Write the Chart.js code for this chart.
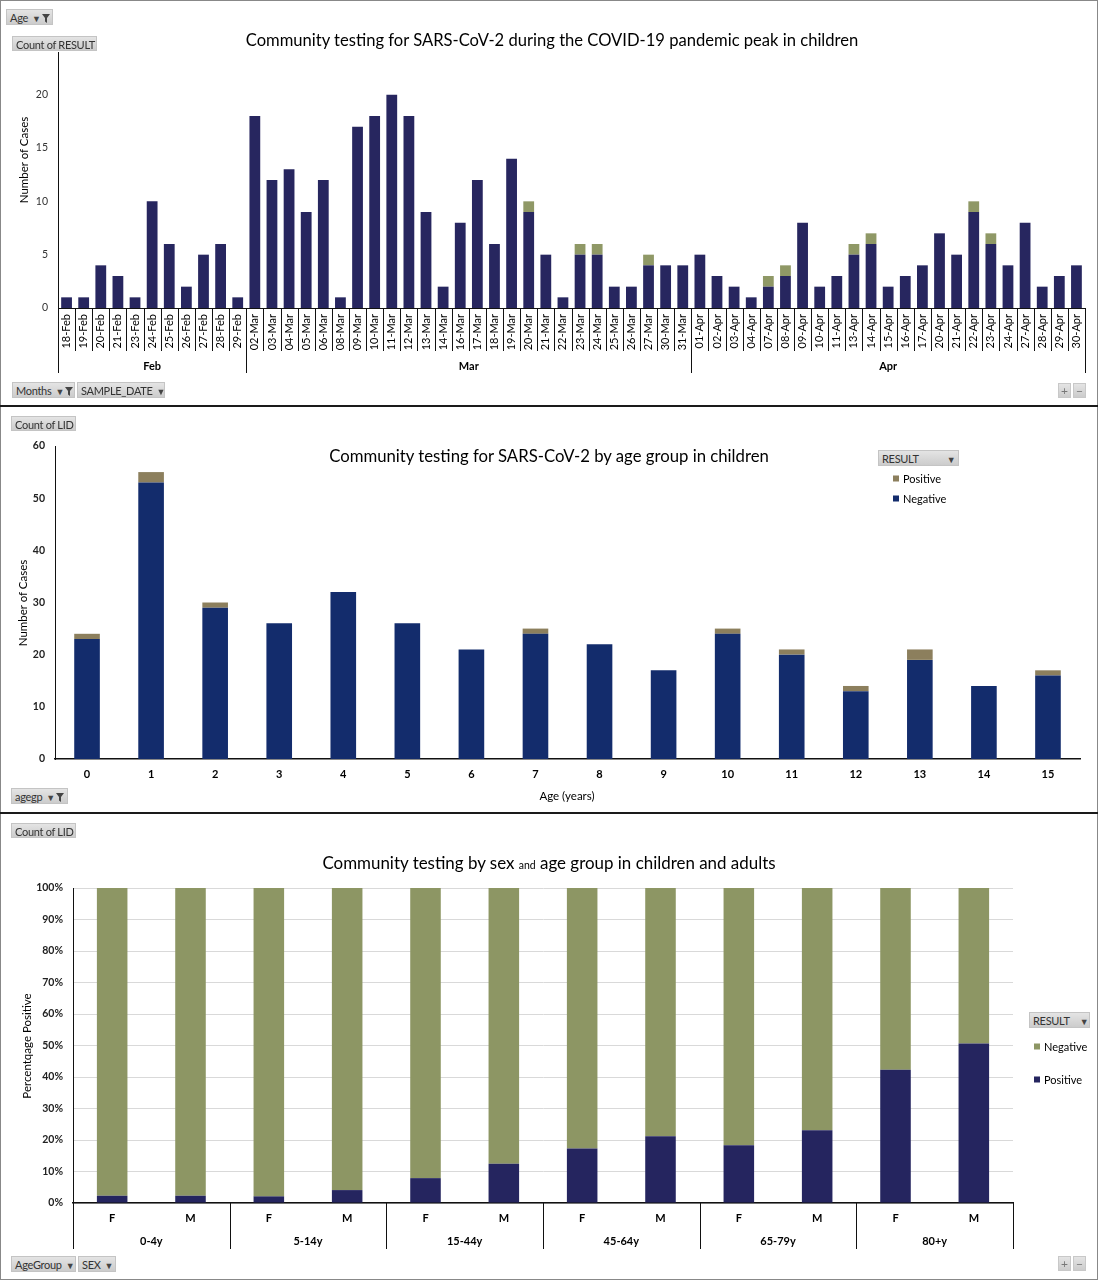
<!DOCTYPE html>
<html><head><meta charset="utf-8">
<script src="https://cdn.jsdelivr.net/npm/chart.js@4.4.1/dist/chart.umd.min.js"></script>
<style>
html,body{margin:0;padding:0;background:#fff;}
#page{position:relative;width:1098px;height:1280px;overflow:hidden;font-family:Lato,'Noto Sans',sans-serif;color:#000;background:#fff;}
canvas{position:absolute;left:0;}
.btn{position:absolute;height:16px;line-height:15px;background:linear-gradient(#e4e4e4,#cccccc);border:1px solid #c4c4c4;font-size:11px;color:#333;padding:0 3px;box-sizing:border-box;white-space:nowrap;letter-spacing:-0.3px;}
.btn .dd{font-size:9px;margin-left:4px;color:#444;}
.btn svg{vertical-align:-1px;margin-left:1px;}
.title{position:absolute;white-space:nowrap;font-size:17px;color:#000;transform:translate(-50%,-50%);}
.title small{font-size:10.5px;}
.ytitle{position:absolute;white-space:nowrap;font-size:11.5px;color:#000;transform:translate(-50%,-50%) rotate(-90deg);}
.xtitle{position:absolute;white-space:nowrap;font-size:11.5px;color:#000;transform:translate(-50%,-50%);}
.hl{position:absolute;background:#1a1a1a;}
.leg{position:absolute;font-size:11px;white-space:nowrap;color:#000;transform:translateY(-50%);}
.leg i{display:inline-block;width:6px;height:6px;margin-right:4px;vertical-align:1px;}
.pm{position:absolute;width:13px;height:15px;background:linear-gradient(#e4e4e4,#cccccc);border:1px solid #c8c8c8;box-sizing:border-box;font-size:12px;line-height:13px;text-align:center;color:#777;}
</style></head>
<body>
<div id="page">
  <!-- borders -->
  <div class="hl" style="left:0;top:0;width:1098px;height:1px;background:#888"></div>
  <div class="hl" style="left:0;top:0;width:1px;height:1280px;background:#888"></div>
  <div class="hl" style="left:1097px;top:0;width:1px;height:1280px;background:#888"></div>
  <div class="hl" style="left:0;top:1279px;width:1098px;height:1px;background:#888"></div>
  <div class="hl" style="left:0;top:405px;width:1098px;height:2px;"></div>
  <div class="hl" style="left:0;top:812px;width:1098px;height:2px;"></div>

  <canvas id="c1" width="1098" height="405" style="top:0;width:1098px;height:405px"></canvas>
  <canvas id="c2" width="1098" height="405" style="top:407px;width:1098px;height:405px"></canvas>
  <canvas id="c3" width="1098" height="466" style="top:814px;width:1098px;height:466px"></canvas>

  <!-- panel 1 -->
  <div class="title" data-w="613" style="left:552px;top:40px">Community testing for SARS-CoV-2 during the COVID-19 pandemic peak in children</div>
  <div class="ytitle" style="left:23px;top:160px">Number of Cases</div>
  <div class="btn" style="left:6px;top:9px;width:47px">Age<span class="dd">▼</span><svg width="8" height="9" viewBox="0 0 8 9"><path d="M0 0H8L5 4V9L3 7.5V4Z" fill="#444"/></svg></div>
  <div class="btn" style="left:12px;top:36px;width:85px;height:15px">Count of RESULT</div>
  <div class="btn" style="left:12px;top:382px;width:63px">Months<span class="dd">▼</span><svg width="8" height="9" viewBox="0 0 8 9"><path d="M0 0H8L5 4V9L3 7.5V4Z" fill="#444"/></svg></div>
  <div class="btn" style="left:77px;top:382px;width:88px">SAMPLE_DATE<span class="dd">▼</span></div>
  <div class="pm" style="left:1058px;top:383px">+</div>
  <div class="pm" style="left:1073px;top:383px">−</div>

  <!-- panel 2 -->
  <div class="title" data-w="440" style="left:549px;top:455px">Community testing for SARS-CoV-2 by age group in children</div>
  <div class="ytitle" style="left:22px;top:603px">Number of Cases</div>
  <div class="xtitle" style="left:567px;top:795px">Age (years)</div>
  <div class="btn" style="left:11px;top:416px;width:65px;height:15px">Count of LID</div>
  <div class="btn" style="left:11px;top:788px;width:57px">agegp<span class="dd">▼</span><svg width="8" height="9" viewBox="0 0 8 9"><path d="M0 0H8L5 4V9L3 7.5V4Z" fill="#444"/></svg></div>
  <div class="btn" style="left:878px;top:450px;width:81px">RESULT<span class="dd" style="margin-left:28px">▼</span></div>
  <div class="leg" id="leg2a" style="left:893px;top:478px"></div>
  <div class="leg" id="leg2b" style="left:893px;top:498px"></div>

  <!-- panel 3 -->
  <div class="title" data-w="453" style="left:549px;top:862px">Community testing by sex <small>and</small> age group in children and adults</div>
  <div class="ytitle" style="left:26px;top:1046px">Percentqage Positive</div>
  <div class="btn" style="left:11px;top:823px;width:65px;height:15px">Count of LID</div>
  <div class="btn" style="left:11px;top:1256px;width:65px">AgeGroup<span class="dd">▼</span></div>
  <div class="btn" style="left:78px;top:1256px;width:38px">SEX<span class="dd">▼</span></div>
  <div class="btn" style="left:1029px;top:1012px;width:61px">RESULT<span class="dd" style="margin-left:10px">▼</span></div>
  <div class="leg" id="leg3a" style="left:1034px;top:1046px"></div>
  <div class="leg" id="leg3b" style="left:1034px;top:1079px"></div>
  <div class="pm" style="left:1058px;top:1256px">+</div>
  <div class="pm" style="left:1073px;top:1256px">−</div>
</div>

<script>
// ---------- Chart 1 data ----------
const sampleDates = ['18-Feb','19-Feb','20-Feb','21-Feb','23-Feb','24-Feb','25-Feb','26-Feb','27-Feb','28-Feb','29-Feb',
  '02-Mar','03-Mar','04-Mar','05-Mar','06-Mar','08-Mar','09-Mar','10-Mar','11-Mar','12-Mar','13-Mar','14-Mar','16-Mar','17-Mar','18-Mar','19-Mar','20-Mar','21-Mar','22-Mar','23-Mar','24-Mar','25-Mar','26-Mar','27-Mar','30-Mar','31-Mar',
  '01-Apr','02-Apr','03-Apr','04-Apr','07-Apr','08-Apr','09-Apr','10-Apr','11-Apr','13-Apr','14-Apr','15-Apr','16-Apr','17-Apr','20-Apr','21-Apr','22-Apr','23-Apr','24-Apr','27-Apr','28-Apr','29-Apr','30-Apr'];
const dailyNegative = [1,1,4,3,1,10,6,2,5,6,1,
  18,12,13,9,12,1,17,18,20,18,9,2,8,12,6,14,9,5,1,5,5,2,2,4,4,4,
  5,3,2,1,2,3,8,2,3,5,6,2,3,4,7,5,9,6,4,8,2,3,4];
const dailyPositive = [0,0,0,0,0,0,0,0,0,0,0,
  0,0,0,0,0,0,0,0,0,0,0,0,0,0,0,0,1,0,0,1,1,0,0,1,0,0,
  0,0,0,0,1,1,0,0,0,1,1,0,0,0,0,0,1,1,0,0,0,0,0];
const dailyTicks = [0,5,10,15,20];

// ---------- Chart 2 data ----------
const ageYears = ['0','1','2','3','4','5','6','7','8','9','10','11','12','13','14','15'];
const ageNegative = [23,53,29,26,32,26,21,24,22,17,24,20,13,19,14,16];
const agePositive = [1,2,1,0,0,0,0,1,0,0,1,1,1,2,0,1];

// ---------- Chart 3 data ----------
const ageGroups = ['0-4y','5-14y','15-44y','45-64y','65-79y','80+y'];
const sexes = ['F','M'];
const pctPositive = [2.3,2.3,2.1,4.1,7.9,12.5,17.3,21.2,18.3,23.1,42.3,50.6];
const pctNegative = [97.7,97.7,97.9,95.9,92.1,87.5,82.7,78.8,81.7,76.9,57.7,49.4];

// colours
const C1 = {neg:'#27265f', pos:'#8f9866'};
const C2 = {neg:'#132c6c', pos:'#8c7f5d'};
const C3 = {neg:'#8d9664', pos:'#25255f'};

// legends
function legItem(id, color, text){ document.getElementById(id).innerHTML = '<i style="background:'+color+'"></i>'+text; }
legItem('leg2a', C2.pos, 'Positive'); legItem('leg2b', C2.neg, 'Negative');
legItem('leg3a', C3.neg, 'Negative'); legItem('leg3b', C3.pos, 'Positive');

// fit titles
document.querySelectorAll('.title[data-w]').forEach(el => {
  const target = +el.dataset.w; const w = el.offsetWidth;
  const fs = 17 * target / w;
  el.style.fontSize = fs.toFixed(2) + 'px';
  const sm = el.querySelector('small'); if (sm) sm.style.fontSize = (fs*0.62).toFixed(2)+'px';
});

// group-axis plugin: separators and group labels under the category axis
const groupAxis = {
  id: 'groupAxis',
  afterDraw(chart, args, o) {
    if (!o || !o.groups) return;
    const ctx = chart.ctx, x = chart.scales.x, bottom = chart.chartArea.bottom;
    const n = chart.data.labels.length;
    const cw = x.getPixelForValue(1) - x.getPixelForValue(0);
    const edge = i => i < n ? x.getPixelForValue(i) - cw/2 : x.getPixelForValue(n-1) + cw/2;
    const major = new Set();
    o.groups.forEach(g => { major.add(g.start); major.add(g.end); });
    ctx.save();
    ctx.strokeStyle = o.color || '#000'; ctx.lineWidth = 1;
    ctx.beginPath();
    for (let i = 0; i <= n; i++) {
      const isMajor = major.has(i);
      if (!isMajor && !o.minorLen) continue;
      const px = Math.round(edge(i)) + 0.5;
      ctx.moveTo(px, bottom);
      ctx.lineTo(px, bottom + (isMajor ? o.majorLen : o.minorLen));
    }
    ctx.stroke();
    ctx.fillStyle = '#000'; ctx.font = o.font; ctx.textAlign = 'center'; ctx.textBaseline = 'middle';
    o.groups.forEach(g => ctx.fillText(g.label, (edge(g.start) + edge(g.end)) / 2, bottom + o.labelOffset));
    ctx.restore();
  }
};

function groupsFromLabels(labels, keyFn) {
  const out = [];
  labels.forEach((l, i) => {
    const k = keyFn(l);
    if (out.length && out[out.length-1].label === k) out[out.length-1].end = i + 1;
    else out.push({label: k, start: i, end: i + 1});
  });
  return out;
}

const FONT = "Lato, 'Noto Sans', sans-serif";
const base = {responsive:false, animation:false, devicePixelRatio:1,
  plugins:{legend:{display:false}, tooltip:{enabled:false}}};

// ---------- Chart 1 ----------
new Chart(document.getElementById('c1'), {
  type:'bar',
  data:{labels: sampleDates, datasets:[
    {label:'Negative', data: dailyNegative, backgroundColor: C1.neg, barPercentage:0.63, categoryPercentage:1, borderWidth:0},
    {label:'Positive', data: dailyPositive, backgroundColor: C1.pos, barPercentage:0.63, categoryPercentage:1, borderWidth:0}
  ]},
  options: Object.assign({}, base, {
    layout:{padding:{top:52, right:13, left:0, bottom:0}},
    plugins: Object.assign({}, base.plugins, {groupAxis:{
      groups: groupsFromLabels(sampleDates, l => l.split('-')[1]),
      minorLen: 43, majorLen: 65, labelOffset: 58, font: 'bold 11px ' + FONT, color:'#111'}}),
    scales:{
      x:{stacked:true, grid:{display:false, drawTicks:false}, border:{display:true, color:'#111', width:1},
         ticks:{autoSkip:false, minRotation:90, maxRotation:90, padding:6, color:'#000', font:{family:FONT, size:11}},
         afterFit(s){ s.height = 97; }},
      y:{stacked:true, min:0, max:24, grid:{display:false, drawTicks:false}, border:{display:true, color:'#111', width:1},
         ticks:{stepSize:5, includeBounds:false, padding:10, color:'#333', font:{family:FONT, size:10.5},
           callback:(v)=> dailyTicks.includes(v) ? String(v) : null},
         afterFit(s){ s.width = 58; }}
    }
  }),
  plugins:[groupAxis]
});

// ---------- Chart 2 ----------
new Chart(document.getElementById('c2'), {
  type:'bar',
  data:{labels: ageYears, datasets:[
    {label:'Negative', data: ageNegative, backgroundColor: C2.neg, barPercentage:0.4, categoryPercentage:1, borderWidth:0},
    {label:'Positive', data: agePositive, backgroundColor: C2.pos, barPercentage:0.4, categoryPercentage:1, borderWidth:0}
  ]},
  options: Object.assign({}, base, {
    layout:{padding:{top:39, right:18, left:0, bottom:0}},
    scales:{
      x:{stacked:true, grid:{display:false, drawTicks:false}, border:{display:true, color:'#111', width:1.5},
         ticks:{padding:9, color:'#000', font:{family:FONT, size:11, weight:'bold'}},
         afterFit(s){ s.height = 53; }},
      y:{stacked:true, min:0, max:60, grid:{display:false, drawTicks:false}, border:{display:true, color:'#111', width:1},
         ticks:{stepSize:10, padding:10, color:'#222', font:{family:FONT, size:10.5, weight:'bold'}},
         afterFit(s){ s.width = 55; }}
    }
  })
});

// ---------- Chart 3 ----------
const sexAgeLabels = ageGroups.flatMap(() => sexes);
new Chart(document.getElementById('c3'), {
  type:'bar',
  data:{labels: sexAgeLabels, datasets:[
    {label:'Positive', data: pctPositive, backgroundColor: C3.pos, barPercentage:0.39, categoryPercentage:1, borderWidth:0},
    {label:'Negative', data: pctNegative, backgroundColor: C3.neg, barPercentage:0.39, categoryPercentage:1, borderWidth:0}
  ]},
  options: Object.assign({}, base, {
    layout:{padding:{top:74, right:85, left:0, bottom:0}},
    plugins: Object.assign({}, base.plugins, {groupAxis:{
      groups: ageGroups.map((g, k) => ({label:g, start:k*sexes.length, end:(k+1)*sexes.length})),
      minorLen: 0, majorLen: 46, labelOffset: 38, font: 'bold 11px ' + FONT, color:'#111'}}),
    scales:{
      x:{stacked:true, grid:{display:false, drawTicks:false}, border:{display:true, color:'#111', width:1.5},
         ticks:{padding:9, color:'#000', font:{family:FONT, size:11, weight:'bold'}},
         afterFit(s){ s.height = 77; }},
      y:{stacked:true, min:0, max:100, grid:{display:true, color:'#d9d9d9', lineWidth:1, drawTicks:false},
         border:{display:true, color:'#111', width:1},
         ticks:{stepSize:10, padding:10, color:'#222', font:{family:FONT, size:10.5, weight:'bold'}, callback:v => v + '%'},
         afterFit(s){ s.width = 73; }}
    }
  }),
  plugins:[groupAxis]
});
</script>
</body></html>
